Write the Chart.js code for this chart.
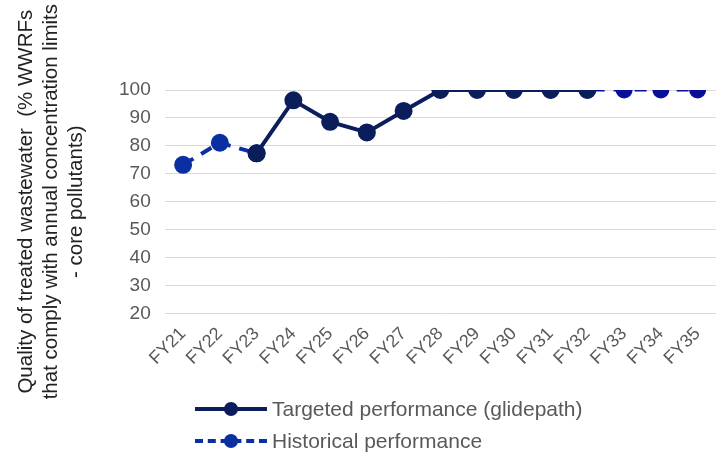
<!DOCTYPE html>
<html>
<head>
<meta charset="utf-8">
<script src="https://cdn.jsdelivr.net/npm/chart.js@4/dist/chart.umd.min.js"></script>
<style>
  body { margin: 0; background: #fff; font-family: "Liberation Sans", Arial, sans-serif; }
  #wrap { position: relative; width: 728px; height: 455px; }
  #qualityChart { position: absolute; left: 0; top: 0; }
  #legend { position: absolute; left: 195px; top: 393px; }
  .item { display: flex; align-items: center; height: 32px; font-size: 21px; color: #595959; }
  .key { position: relative; width: 72px; height: 14px; margin-right: 5px; }
  .key .ln { position: absolute; left: 0; right: 0; top: 5px; height: 0; border-top: 4px solid; }
  .key .dot { position: absolute; left: 29px; top: 0; width: 14px; height: 14px; border-radius: 50%; }
</style>
</head>
<body>
<div id="wrap">
  <canvas id="qualityChart" width="728" height="455"></canvas>
  <div id="legend">
    <div class="item"><div class="key"><div class="ln" style="border-color:#0b1e5b"></div><div class="dot" style="background:#0b1e5b"></div></div>Targeted performance (glidepath)</div>
    <div class="item"><div class="key"><div class="ln" style="border-color:#0a2fa0;border-top-style:dashed"></div><div class="dot" style="background:#0a2fa0"></div></div>Historical performance</div>
  </div>
</div>
<script>
var years = ['FY21', 'FY22', 'FY23', 'FY24', 'FY25', 'FY26', 'FY27', 'FY28', 'FY29', 'FY30', 'FY31', 'FY32', 'FY33', 'FY34', 'FY35'];
var targeted = [null, null, 77.3, 96.3, 88.6, 84.8, 92.5, 100, 100, 100, 100, 100, null, null, null];
var historical = [73.2, 81.1, 77.3, null, null, null, null, null, null, null, null, null, null, null, null];
var projected = [null, null, null, null, null, null, null, null, null, null, 100, 100, 100, 100, 100];
var yTicks = [20, 30, 40, 50, 60, 70, 80, 90, 100];

var ctx = document.getElementById('qualityChart').getContext('2d');

var myChart = new Chart(ctx, {
    type: 'line',
    data: {
        labels: years,
        datasets: [{
            label: 'Targeted performance (glidepath)',
            data: targeted,
            borderColor: '#0b1e5b',
            backgroundColor: '#0b1e5b',
            borderWidth: 4,
            pointRadius: 7,
            pointHoverRadius: 7,
            order: 1
        }, {
            label: 'Historical performance',
            data: historical,
            borderColor: '#0a2fa0',
            backgroundColor: '#0a2fa0',
            borderWidth: 4,
            borderDash: [12, 9],
            pointRadius: 7,
            pointHoverRadius: 7,
            order: 2
        }, {
            label: 'Projected',
            data: projected,
            borderColor: '#0a0f9a',
            backgroundColor: '#0a0f9a',
            borderWidth: 3,
            borderDash: [12, 9],
            pointRadius: 7,
            pointHoverRadius: 7,
            order: 3
        }]
    },
    options: {
        responsive: false,
        animation: false,
        layout: { padding: { top: 90, right: 12, left: 14, bottom: 84 } },
        plugins: {
            legend: { display: false },
            tooltip: { enabled: false }
        },
        scales: {
            x: {
                offset: true,
                grid: { display: false },
                border: { display: false },
                ticks: {
                    color: '#595959',
                    font: { family: 'Liberation Sans', size: 18 },
                    minRotation: 45,
                    maxRotation: 45,
                    padding: 2
                }
            },
            y: {
                min: 20,
                max: 100,
                afterBuildTicks: function (axis) {
                    axis.ticks = yTicks.map(function (v) { return { value: v }; });
                },
                grid: { color: '#d9d9d9', lineWidth: 1, drawTicks: false },
                border: { display: false },
                ticks: {
                    color: '#595959',
                    font: { family: 'Liberation Sans', size: 19 },
                    padding: 14
                },
                title: {
                    display: true,
                    text: ['Quality of treated wastewater  (% WWRFs', 'that comply with annual concentration limits', '- core pollutants)'],
                    color: '#222',
                    font: { family: 'Liberation Sans', size: 20.5, lineHeight: 1.22 },
                    padding: { top: 0, bottom: 16 }
                }
            }
        }
    }
});
</script>
</body>
</html>
